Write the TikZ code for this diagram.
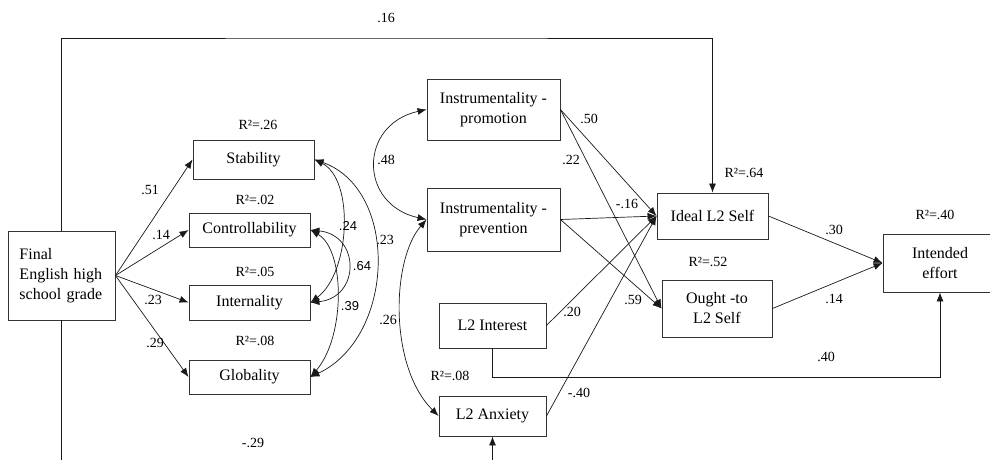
\documentclass[tikz,border=0pt]{standalone}
\usepackage{fontspec}
\setmainfont{Liberation Serif}
\newfontfamily\labsans{Liberation Sans}
\usetikzlibrary{arrows.meta}
\tikzset{
  box/.style={draw=black!80, line width=0.9pt, inner sep=0pt, align=center, font=\fontsize{16}{20}\selectfont},
  lbl/.style={inner sep=0pt, font=\fontsize{14}{16}\selectfont},
  slbl/.style={inner sep=0pt, font=\labsans\fontsize{13}{15}\selectfont},
  arr/.style={draw=black!90, line width=0.7pt, -{Latex[length=9pt,width=7pt]}},
  covarr/.style={draw=black!90, line width=0.7pt, {Latex[length=9pt,width=7pt]}-{Latex[length=9pt,width=7pt]}},
}

\begin{document}
\begin{tikzpicture}[x=1pt, y=-1pt]
			%%%%% START %%%%%
			\useasboundingbox (0,0) rectangle (990,459);
			\clip (0,0) rectangle (990,459);
			
			% predictor
			\node[box, minimum width=107pt, minimum height=89pt, text width=84pt, align=left] (final) at (61.5,275.5) {Final\\English high\\school grade};
			
			% attributions
			\node[box, minimum width=121pt, minimum height=39pt] (stab) at (253.5,159.5) {Stability};
			\node[box, minimum width=121pt, minimum height=34pt] (ctrl) at (249.5,230) {Controllability};
			\node[box, minimum width=121pt, minimum height=35pt] (intern) at (249.5,302.5) {Internality};
			\node[box, minimum width=121pt, minimum height=34pt] (glob) at (249.5,377) {Globality};
			
			% motives
			\node[box, minimum width=133pt, minimum height=61pt] (promo) at (493.5,109.5) {Instrumentality -\\promotion};
			\node[box, minimum width=133pt, minimum height=63pt] (prev) at (493.5,219.5) {Instrumentality -\\prevention};
			\node[box, minimum width=107pt, minimum height=45pt] (interest) at (492.5,325.5) {L2 Interest};
			\node[box, minimum width=107pt, minimum height=40pt] (anx) at (492.5,416) {L2 Anxiety};
			
			% selves and outcome
			\node[box, minimum width=111pt, minimum height=46pt] (ideal) at (712.5,216) {Ideal L2 Self};
			\node[box, minimum width=110pt, minimum height=57pt] (ought) at (717,308.5) {Ought -to\\L2 Self};
			\node[box, minimum width=114pt, minimum height=58pt] (effort) at (940,263) {Intended\\effort};
			
			\coordinate (topline) at (386,38);
			\coordinate (lowline) at (700,377);
			\coordinate (botline) at (250,470);
			
			% paths
			\draw[arr] (final.east) -- (stab.west);
			\draw[arr] (final.east) -- (ctrl.west);
			\draw[arr] (final.east) -- (intern.west);
			\draw[arr] (final.east) -- (glob.west);
			\draw[arr] (final.north) |- (topline) -| (ideal.north);
			\draw[arr] (final.south) |- (botline) -| (anx.south);
			
			\draw[arr] (promo.east) -- (ideal.west);
			\draw[arr] (promo.east) -- (ought.west);
			\draw[arr] (prev.east) -- (ideal.west);
			\draw[arr] (prev.east) -- (ought.west);
			\draw[arr] (interest.east) -- (ideal.west);
			\draw[arr] (anx.east) -- (ideal.west);
			\draw[arr] (interest.south) |- (lowline) -| (effort.south);
			
			\draw[arr] (ideal.east) -- (effort.west);
			\draw[arr] (ought.east) -- (effort.west);
			
			% covariances
			\draw[covarr] (stab.east) .. controls +(40,20) and +(40,-30) .. (intern.east);
			\draw[covarr] (stab.east) .. controls +(85,30) and +(85,-40) .. (glob.east);
			\draw[covarr] (ctrl.east) .. controls +(50,5) and +(50,-5) .. (intern.east);
			\draw[covarr] (ctrl.east) .. controls +(35,20) and +(35,-40) .. (glob.east);
			\draw[covarr] (promo.west) .. controls +(-68,15) and +(-68,-15) .. (prev.west);
			\draw[covarr] (prev.west) .. controls +(-35,40) and +(-50,-50) .. (anx.west);
			
			% coefficients
			\node[lbl] (c16) at (386,18) {.16};
			\node[lbl] (c51) at (150,190) {.51};
			\node[lbl] (c14a) at (161,235) {.14};
			\node[lbl] (c23a) at (153,300) {.23};
			\node[lbl] (c29) at (155,343) {.29};
			\node[lbl] (cm29) at (253,443) {-.29};
			\node[slbl] (c24) at (348,226) {.24};
			\node[lbl] (c23b) at (385,240) {.23};
			\node[slbl] (c64) at (362,266) {.64};
			\node[slbl] (c39) at (350,306) {.39};
			\node[lbl] (c48) at (386,160) {.48};
			\node[lbl] (c26) at (388,320) {.26};
			\node[lbl] (c50) at (589,119) {.50};
			\node[lbl] (c22) at (571,160) {.22};
			\node[lbl] (cm16) at (627,204) {-.16};
			\node[lbl] (c20) at (572,312) {.20};
			\node[lbl] (c59) at (633,300) {.59};
			\node[lbl] (cm40) at (579,393) {-.40};
			\node[lbl] (c30) at (834,230) {.30};
			\node[lbl] (c14b) at (834,299) {.14};
			\node[lbl] (c40) at (826,357) {.40};
			
			% explained variance
			\node[lbl] (r26) at (258,125) {R²=.26};
			\node[lbl] (r02) at (255,200) {R²=.02};
			\node[lbl] (r05) at (255,272) {R²=.05};
			\node[lbl] (r08a) at (255,341) {R²=.08};
			\node[lbl] (r08b) at (450,376) {R²=.08};
			\node[lbl] (r64) at (744,173) {R²=.64};
			\node[lbl] (r52) at (708,262) {R²=.52};
			\node[lbl] (r40) at (935,215) {R²=.40};
			%%%%% END %%%%%
\end{tikzpicture}
\end{document}
